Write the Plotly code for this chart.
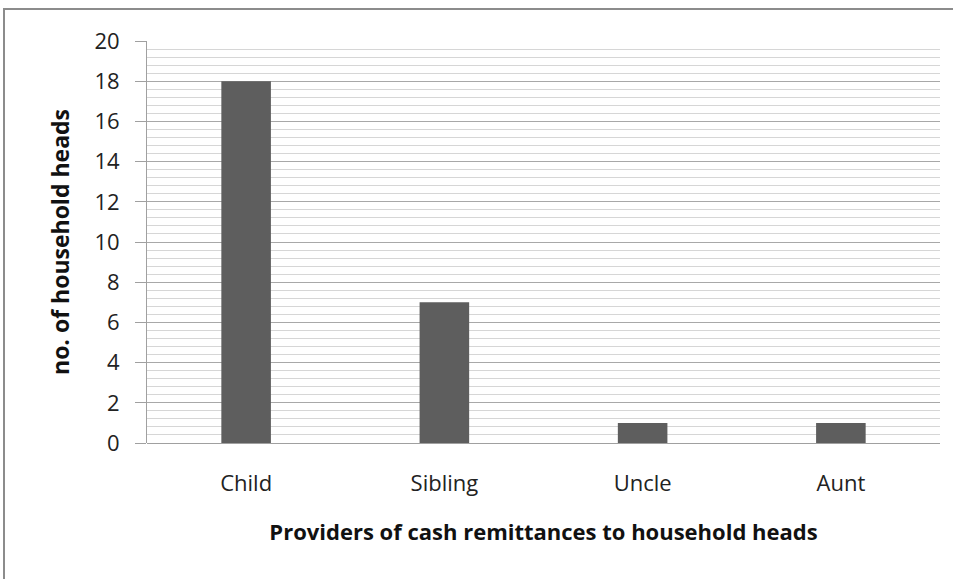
import plotly.graph_objects as go

categories = ["Child", "Sibling", "Uncle", "Aunt"]
values = [18, 7, 1, 1]
y_ticks = [0, 2, 4, 6, 8, 10, 12, 14, 16, 18, 20]

FONT = "Open Sans"
L, R, T, B = 147, 13, 41, 136
W, H = 953, 579
pw = W - L - R
ph = H - T - B

fig = go.Figure(go.Bar(
    x=categories, y=values, width=0.25,
    marker=dict(color="#5e5e5e", line=dict(width=0)),
))

fig.update_layout(
    width=W, height=H,
    margin=dict(l=L, r=R, t=T, b=B),
    paper_bgcolor="white", plot_bgcolor="white",
    showlegend=False,
    font=dict(family=FONT, size=22, color="#222222"),
    xaxis=dict(
        showline=False, ticks="", showgrid=False,
        tickfont=dict(size=22, family=FONT, color="#222222"),
        ticklabelstandoff=25,
        title=dict(text="<b>Providers of cash remittances to household heads</b>",
                   font=dict(size=22, family=FONT, color="#111111"), standoff=28),
    ),
    yaxis=dict(
        range=[0, 20], tickvals=y_ticks, ticks="outside", ticklen=11,
        tickcolor="#a0a0a0", showline=True, linecolor="#a0a0a0", linewidth=1,
        showgrid=True, gridcolor="#a8a8a8", gridwidth=1, zeroline=True,
        zerolinecolor="#a0a0a0", zerolinewidth=1,
        minor=dict(dtick=0.4, showgrid=True, gridcolor="#d6d6d6", gridwidth=1),
        tickfont=dict(size=22, family=FONT, color="#222222"),
        ticklabelstandoff=11,
        title=dict(text="<b>no. of household heads</b>",
                   font=dict(size=23, family=FONT, color="#111111"), standoff=18),
    ),
    bargap=0.75,
)

# outer frame of the chart image
x0 = (4 - L) / pw
y1 = (H - B - 9) / ph
fig.add_shape(type="rect", xref="paper", yref="paper",
              x0=x0, x1=1.2, y0=-0.6, y1=y1,
              line=dict(color="#8c8c8c", width=2), layer="below")

fig.write_html("out.html", config={"displayModeBar": False},
               post_script="document.body.style.margin='0';document.body.style.overflow='hidden';")
